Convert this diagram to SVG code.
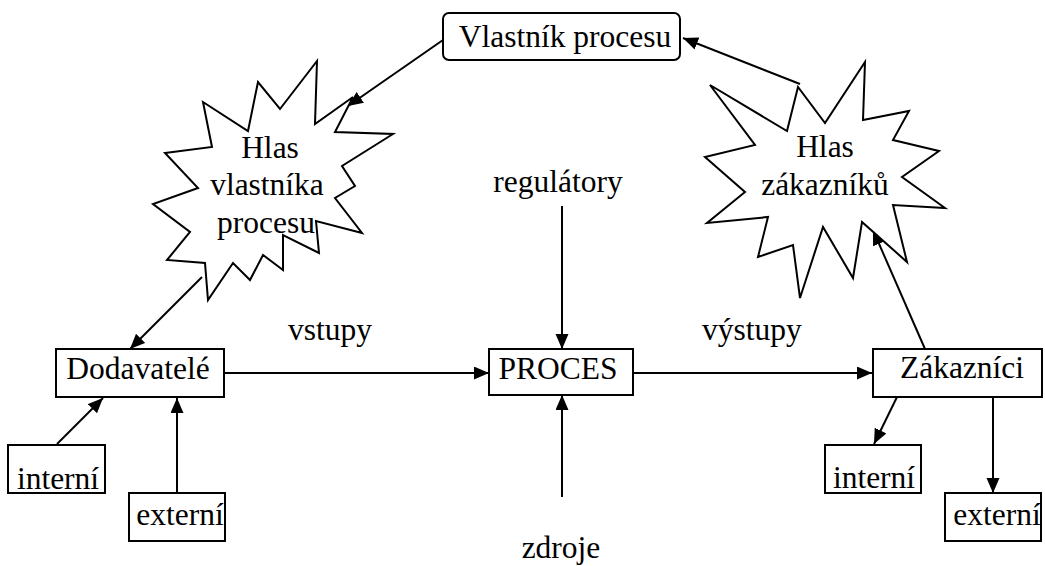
<svg xmlns="http://www.w3.org/2000/svg" width="1045" height="566" viewBox="0 0 1045 566">
  <style>
    .box { fill: #fff; stroke: #000; stroke-width: 2; }
    .star { fill: #fff; stroke: #000; stroke-width: 2; stroke-linejoin: miter; }
    .lbl { font-family: "Liberation Serif", "Times New Roman", serif; font-size: 31.5px; fill: #000; text-anchor: middle; }
    .conn line { stroke: #000; stroke-width: 2; marker-end: url(#arrow); }
  </style>
  <defs>
    <marker id="arrow" markerUnits="userSpaceOnUse" markerWidth="16" markerHeight="14" refX="15" refY="6.5" orient="auto">
      <path d="M0,0 L15,6.5 L0,13 z" fill="#000"/>
    </marker>
  </defs>

  <rect width="1045" height="566" fill="#fff"/>

  <!-- connectors -->
  <g id="connectors" class="conn">
    <line x1="443" y1="40" x2="348" y2="106"/>
    <line x1="800" y1="84" x2="683" y2="38"/>
    <line x1="202" y1="277" x2="130" y2="349"/>
    <line x1="925" y1="349" x2="873" y2="230"/>
    <line x1="57" y1="444" x2="103" y2="398"/>
    <line x1="177" y1="493" x2="177" y2="398"/>
    <line x1="224" y1="373" x2="489" y2="373"/>
    <line x1="562" y1="206" x2="562" y2="349"/>
    <line x1="562" y1="497" x2="562" y2="395"/>
    <line x1="633" y1="373" x2="872" y2="373"/>
    <line x1="897" y1="397" x2="874" y2="444"/>
    <line x1="993" y1="397" x2="993" y2="493"/>
  </g>

  <!-- process owner -->
  <g id="owner">
    <rect class="box" x="443" y="13" width="237" height="47" rx="6"/>
    <text class="lbl" x="565" y="47">Vlastník procesu</text>
  </g>

  <!-- owner's voice burst -->
  <g id="owner-voice">
    <polygon class="star" points="317,61 315,124 353,97 335,132 393,134 342,166 355,186 335,198 362,233 316,221 319,253 283,235 283,270 263,255 250,280 233,263 208,300 205,263 167,260 190,232 153,204 198,188 165,153 212,147 203,102 248,131 258,82 280,109"/>
    <text class="lbl" x="270" y="158">Hlas</text>
    <text class="lbl" x="267" y="195">vlastníka</text>
    <text class="lbl" x="266" y="233">procesu</text>
  </g>

  <!-- customers' voice burst -->
  <g id="customer-voice">
    <polygon class="star" points="865,62 863,120 909,111 893,140 939,151 902,177 945,208 893,205 907,262 862,222 853,278 823,227 800,298 793,245 758,257 768,217 707,223 745,192 705,157 755,145 710,85 787,131 798,87 825,123"/>
    <text class="lbl" x="825" y="157">Hlas</text>
    <text class="lbl" x="825" y="195">zákazníků</text>
  </g>

  <!-- free labels -->
  <g id="regulators"><text class="lbl" x="558" y="192">regulátory</text></g>
  <g id="resources"><text class="lbl" x="561" y="558">zdroje</text></g>
  <g id="inputs"><text class="lbl" x="330" y="340">vstupy</text></g>
  <g id="outputs"><text class="lbl" x="752" y="340">výstupy</text></g>

  <!-- suppliers -->
  <g id="suppliers">
    <rect class="box" x="56" y="349" width="168" height="48"/>
    <text class="lbl" x="138" y="379">Dodavatelé</text>
  </g>
  <g id="suppliers-internal">
    <rect class="box" x="8" y="445" width="97" height="48"/>
    <text class="lbl" x="58" y="489">interní</text>
  </g>
  <g id="suppliers-external">
    <rect class="box" x="129" y="493" width="96" height="48"/>
    <text class="lbl" x="180" y="525">externí</text>
  </g>

  <!-- process -->
  <g id="process">
    <rect class="box" x="489" y="349" width="144" height="46"/>
    <text class="lbl" x="558" y="379">PROCES</text>
  </g>

  <!-- customers -->
  <g id="customers">
    <rect class="box" x="873" y="349" width="169" height="48"/>
    <text class="lbl" x="962" y="378">Zákazníci</text>
  </g>
  <g id="customers-internal">
    <rect class="box" x="825" y="445" width="96" height="48"/>
    <text class="lbl" x="874" y="488">interní</text>
  </g>
  <g id="customers-external">
    <rect class="box" x="945" y="493" width="96" height="48"/>
    <text class="lbl" x="997" y="525">externí</text>
  </g>
</svg>
